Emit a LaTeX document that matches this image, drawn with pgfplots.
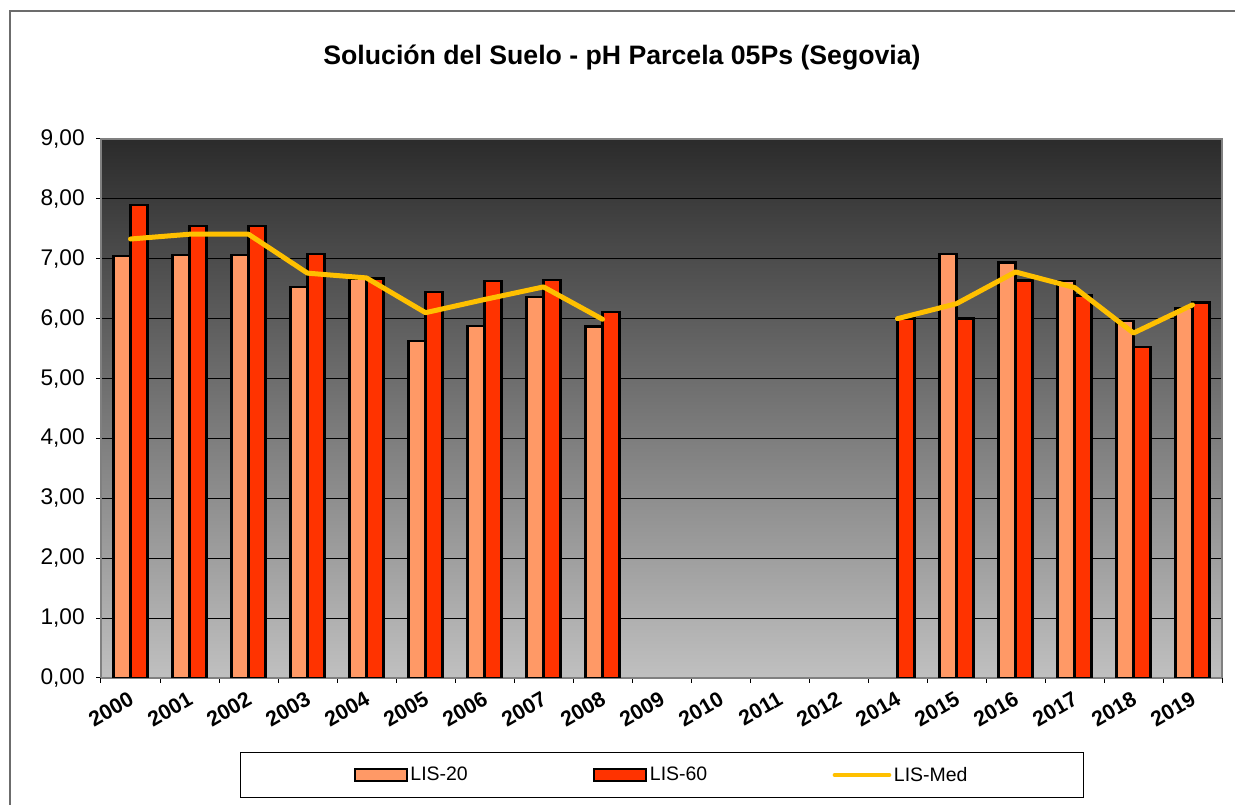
\documentclass[border=0pt]{standalone}
\usepackage{fontspec}
\setmainfont{Liberation Sans}
\usepackage{pgfplots}
\pgfplotsset{compat=1.18}
\usepackage{pgfplotstable}

\definecolor{lis20}{HTML}{FF9966}
\definecolor{lis60}{HTML}{FF3300}
\definecolor{lismed}{HTML}{FFC000}
\definecolor{bgtop}{HTML}{2B2B2B}
\definecolor{bgbot}{HTML}{C0C0C0}
\definecolor{marco}{HTML}{808080}

% símbolos de la leyenda
\pgfplotsset{
  barra legend/.style={legend image code/.code={\draw[##1, line width=1.6pt] (0pt,-4.5pt) rectangle (39pt,4.5pt);}},
  linea legend/.style={legend image code/.code={\draw[##1, line width=3pt] (0pt,0pt) -- (41pt,0pt);}},
}

% pH por campaña: LIS-20, LIS-60 y LIS-Med (sin datos 2009-2012)
\pgfplotstableread{
x  l20   l60   med
0  7.05  7.90  7.33
1  7.06  7.55  7.41
2  7.06  7.55  7.41
3  6.53  7.08  6.76
4  6.66  6.67  6.68
5  5.63  6.45  6.10
6  5.88  6.63  6.32
7  6.36  6.65  6.53
8  5.87  6.11  5.99
9  nan   nan   nan
10 nan   nan   nan
11 nan   nan   nan
12 nan   nan   nan
13 nan   6.00  6.00
14 7.08  6.00  6.25
15 6.94  6.64  6.78
16 6.63  6.39  6.52
17 5.96  5.53  5.76
18 6.18  6.27  6.23
}\datos

\begin{document}
\begin{tikzpicture}
\useasboundingbox (0,0) rectangle (926.25pt,603.75pt);
% marco del gráfico
\draw[line width=0.8pt, gray!85!black] (7.5pt,-5pt) -- (7.5pt,595.5pt) -- (935pt,595.5pt);
\node[font=\bfseries\fontsize{20}{24}\selectfont] at (466.5pt,560.25pt)
  {Solución del Suelo - pH Parcela 05Ps (Segovia)};
\begin{axis}[
  at={(75.75pt,95.25pt)}, anchor=south west,
  scale only axis, width=840.75pt, height=404.25pt,
  xmin=-0.5, xmax=18.5, ymin=0, ymax=9,
  axis background/.style={top color=bgtop, bottom color=bgbot},
  axis line style={marco, line width=0.8pt},
  ytick={0,...,9},
  ymajorgrids,
  grid style={black, line width=0.8pt},
  tick align=outside,
  xtick pos=bottom, ytick pos=left,
  major tick length=3.75pt, minor tick length=3.75pt,
  major y tick style={black, line width=0.75pt},
  xtick={0,...,18},
  xticklabels={2000,2001,2002,2003,2004,2005,2006,2007,2008,2009,2010,2011,2012,2014,2015,2016,2017,2018,2019},
  major x tick style={draw=none},
  minor x tick num=1,
  minor x tick style={black, line width=0.75pt},
  extra x ticks={-0.5,18.5},
  extra x tick labels={},
  extra x tick style={grid=none, major x tick style={draw=black, line width=0.75pt}},
  xticklabel style={font=\bfseries\fontsize{16}{18}\selectfont, anchor=north east, inner sep=0pt, xshift=-2pt, yshift=-5.5pt, rotate=30},
  yticklabel style={font=\fontsize{17}{19}\selectfont, xshift=-5pt, /pgf/number format/.cd, fixed, fixed zerofill, precision=2, use comma, assume math mode=true},
  legend style={at={(0.5004,-0.18)}, anchor=center, legend columns=3, draw=black, line width=0.75pt, fill=white,
    font=\fontsize{14.6}{16}\selectfont, inner xsep=85pt, inner ysep=9pt,
    /tikz/every even column/.append style={column sep=92pt}},
]
\addplot[ybar, bar width=0.288, bar shift=-0.144, fill=lis20, draw=black, line width=1.8pt, barra legend]
  table[x=x, y=l20] {\datos};
\addlegendentry{LIS-20}
\addplot[ybar, bar width=0.288, bar shift=0.144, fill=lis60, draw=black, line width=1.8pt, barra legend]
  table[x=x, y=l60] {\datos};
\addlegendentry{LIS-60}
\addplot[lismed, line width=3.75pt, line cap=round, line join=round, unbounded coords=jump, linea legend]
  table[x=x, y=med] {\datos};
\addlegendentry{LIS-Med}
\end{axis}
\end{tikzpicture}
\end{document}
